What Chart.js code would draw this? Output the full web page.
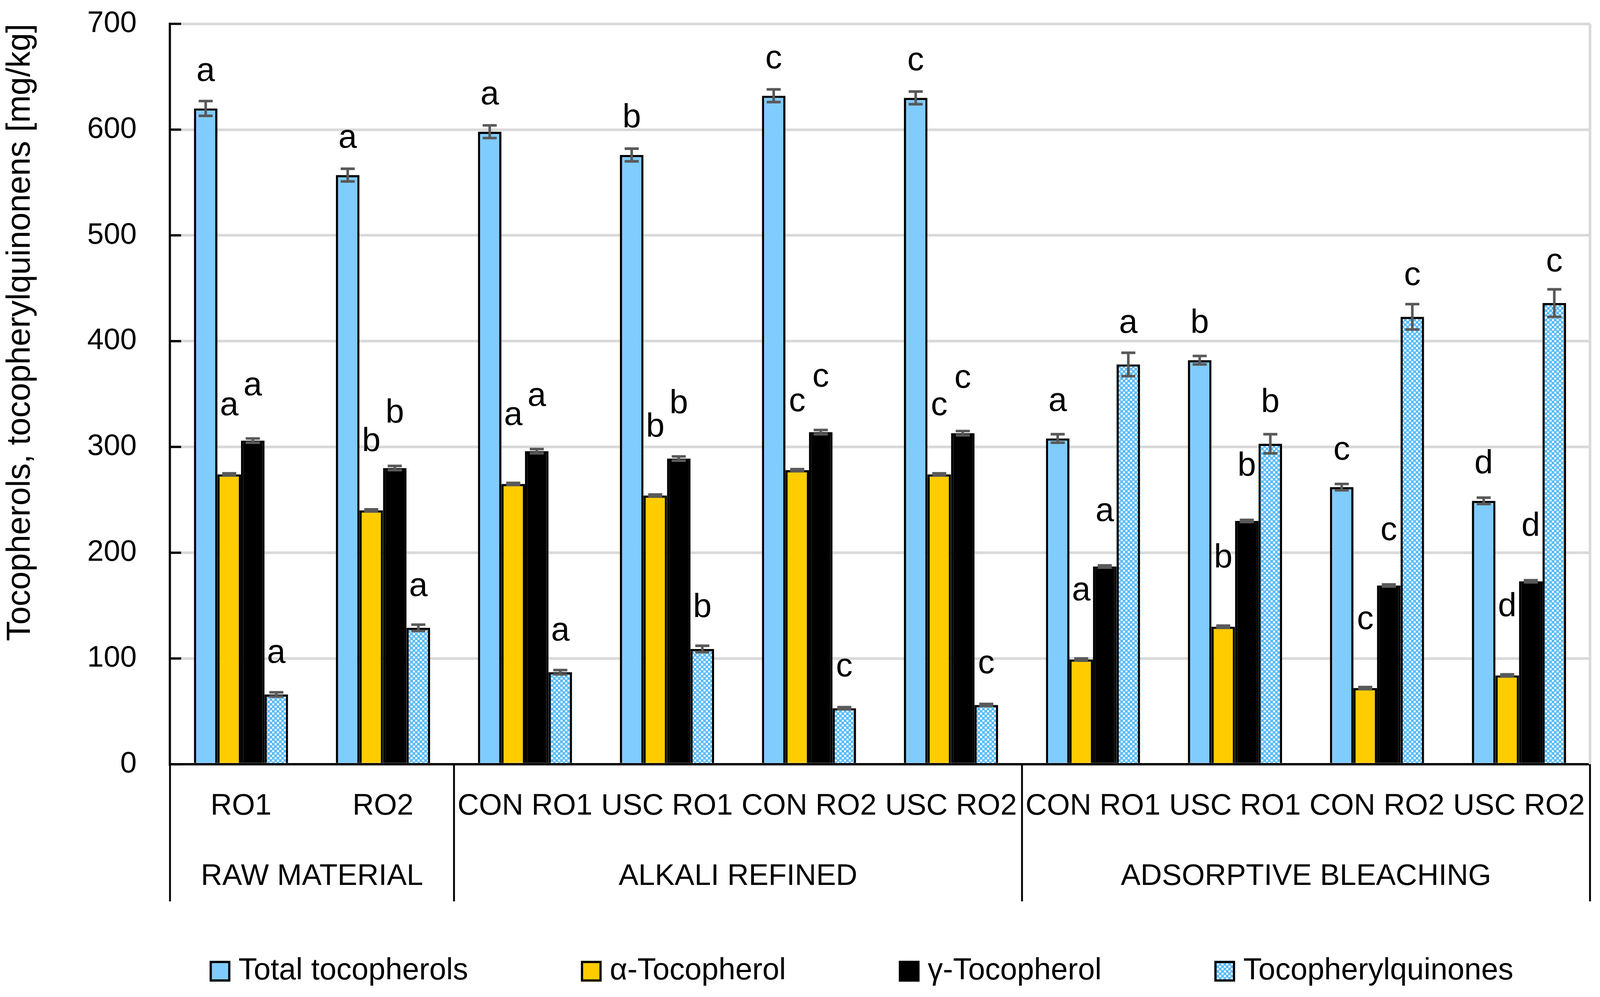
<!DOCTYPE html>
<html>
<head>
<meta charset="utf-8">
<script src="https://cdn.jsdelivr.net/npm/chart.js@4.4.1/dist/chart.umd.min.js"></script>
<style>
  html, body { margin: 0; padding: 0; background: #fff; overflow: hidden; }
  canvas { display: block; }
</style>
</head>
<body>
<canvas id="chart"></canvas>
<script>
// data
const categories = ['RO1', 'RO2', 'CON RO1', 'USC RO1', 'CON RO2', 'USC RO2', 'CON RO1', 'USC RO1', 'CON RO2', 'USC RO2'];
const groups = ['RAW MATERIAL', 'ALKALI REFINED', 'ADSORPTIVE BLEACHING'];
const groupSizes = [2, 4, 4];
const yTicks = [0, 100, 200, 300, 400, 500, 600, 700];

const totalTocopherols = [620, 557, 598, 576, 632, 630, 308, 382, 262, 249];
const alphaTocopherol = [274, 240, 265, 254, 278, 274, 99, 130, 72, 84];
const gammaTocopherol = [306, 280, 296, 289, 314, 313, 187, 230, 169, 173];
const tocopherylquinones = [66, 129, 87, 109, 53, 56, 378, 303, 423, 436];

const totalErr = [7, 6, 6, 6, 6, 6, 4, 4, 3, 3];
const alphaErr = [1, 1, 1, 1, 1, 1, 1, 1, 1, 1];
const gammaErr = [2, 2, 2, 2, 2, 2, 1, 1, 1, 1];
const tqErr = [2, 3, 2, 3, 1, 1, 11, 9, 12, 13];

const totalLetters = ['a', 'a', 'a', 'b', 'c', 'c', 'a', 'b', 'c', 'd'];
const alphaLetters = ['a', 'b', 'a', 'b', 'c', 'c', 'a', 'b', 'c', 'd'];
const gammaLetters = ['a', 'b', 'a', 'b', 'c', 'c', 'a', 'b', 'c', 'd'];
const tqLetters = ['a', 'a', 'a', 'b', 'c', 'c', 'a', 'b', 'c', 'c'];

const FONT = "'Liberation Sans', Arial, sans-serif";

// fit the page, sizes below are given for a 4320 x 2553 window
const W = window.innerWidth;
const H = window.innerHeight;
const sx = W / 4320;
const sy = H / 2553;
const sf = Math.min(sx, sy);

const canvas = document.getElementById('chart');
canvas.width = W;
canvas.height = H;
const ctxMain = canvas.getContext('2d');

// checkerboard fill for the quinones
const tile = document.createElement('canvas');
tile.width = 12;
tile.height = 12;
const tctx = tile.getContext('2d');
tctx.fillStyle = '#5bbdfb';
tctx.fillRect(0, 0, 12, 12);
tctx.fillStyle = '#ffffff';
tctx.fillRect(1, 1, 5, 5);
tctx.fillRect(7, 7, 5, 5);
const tqPattern = ctxMain.createPattern(tile, 'repeat');

const errorBars = {
    id: 'errorBars',
    afterDatasetsDraw(chart) {
        const ctx = chart.ctx;
        const y = chart.scales.y;
        const cap = 19 * sx;
        chart.data.datasets.forEach((ds, i) => {
            const meta = chart.getDatasetMeta(i);
            meta.data.forEach((bar, j) => {
                const v = ds.data[j];
                const e = ds.errors[j];
                const yt = y.getPixelForValue(v + e);
                const yb = y.getPixelForValue(v - e);
                ctx.save();
                ctx.strokeStyle = '#595959';
                ctx.lineWidth = 7 * sf;
                ctx.beginPath();
                ctx.moveTo(bar.x, yt);
                ctx.lineTo(bar.x, yb);
                ctx.moveTo(bar.x - cap, yt);
                ctx.lineTo(bar.x + cap, yt);
                ctx.moveTo(bar.x - cap, yb);
                ctx.lineTo(bar.x + cap, yb);
                ctx.stroke();
                ctx.fillStyle = '#000';
                ctx.font = (90 * sf) + 'px ' + FONT;
                ctx.textAlign = 'center';
                ctx.textBaseline = 'middle';
                ctx.fillText(ds.letters[j], bar.x, y.getPixelForValue(v) - ds.letterLift * sy);
                ctx.restore();
            });
        });
    }
};

const frame = {
    id: 'frame',
    afterDraw(chart) {
        const ctx = chart.ctx;
        const x = chart.scales.x;
        const y = chart.scales.y;
        const area = chart.chartArea;
        const tableBottom = 2308 * sy;
        ctx.save();
        // light right border of the plot
        ctx.strokeStyle = '#d9d9d9';
        ctx.lineWidth = 7 * sf;
        ctx.beginPath();
        ctx.moveTo(area.right, area.top);
        ctx.lineTo(area.right, area.bottom);
        ctx.stroke();
        // inward ticks on the value axis
        ctx.strokeStyle = '#000';
        ctx.lineWidth = 6 * sf;
        ctx.beginPath();
        yTicks.forEach(t => {
            const py = y.getPixelForValue(t);
            ctx.moveTo(area.left, py);
            ctx.lineTo(area.left + 30 * sx, py);
        });
        ctx.stroke();
        // group separators below the axis
        const bounds = [area.left];
        let idx = 0;
        groupSizes.forEach(n => {
            idx += n;
            if (idx < categories.length) {
                bounds.push((x.getPixelForValue(idx - 1) + x.getPixelForValue(idx)) / 2);
            } else {
                bounds.push(area.right);
            }
        });
        ctx.lineWidth = 5 * sf;
        ctx.beginPath();
        bounds.forEach(b => {
            ctx.moveTo(b, area.bottom);
            ctx.lineTo(b, tableBottom);
        });
        ctx.stroke();
        ctx.fillStyle = '#000';
        ctx.font = (80 * sf) + 'px ' + FONT;
        ctx.textAlign = 'center';
        ctx.textBaseline = 'middle';
        groups.forEach((g, k) => {
            ctx.fillText(g, (bounds[k] + bounds[k + 1]) / 2, 2245 * sy);
        });
        // legend, spread over the same span as the original
        const ds = chart.data.datasets;
        const box = 56 * sf, gap = 22 * sx;
        ctx.font = (82 * sf) + 'px ' + FONT;
        const widths = ds.map(d => ctx.measureText(d.label).width);
        const used = widths.reduce((a, w) => a + box + gap + w, 0);
        const spanLeft = 566 * sx, spanRight = 4086 * sx;
        const spacing = (spanRight - spanLeft - used) / (ds.length - 1);
        let lx = spanLeft;
        const ly = 2487 * sy;
        ds.forEach((d, k) => {
            ctx.fillStyle = d.backgroundColor;
            ctx.fillRect(lx, ly - box / 2, box, box);
            ctx.strokeStyle = '#000';
            ctx.lineWidth = 6 * sf;
            ctx.strokeRect(lx + 3 * sf, ly - box / 2 + 3 * sf, box - 6 * sf, box - 6 * sf);
            ctx.fillStyle = '#000';
            ctx.textAlign = 'left';
            ctx.fillText(d.label, lx + box + gap, ly);
            lx += box + gap + widths[k] + spacing;
        });
        ctx.restore();
    }
};

new Chart(ctxMain, {
    type: 'bar',
    data: {
        labels: categories,
        datasets: [
            { label: 'Total tocopherols', data: totalTocopherols, errors: totalErr, letters: totalLetters, letterLift: 94, backgroundColor: '#80ccff' },
            { label: 'α-Tocopherol', data: alphaTocopherol, errors: alphaErr, letters: alphaLetters, letterLift: 175, backgroundColor: '#ffcc00' },
            { label: 'γ-Tocopherol', data: gammaTocopherol, errors: gammaErr, letters: gammaLetters, letterLift: 140, backgroundColor: '#000000' },
            { label: 'Tocopherylquinones', data: tocopherylquinones, errors: tqErr, letters: tqLetters, letterLift: 105, backgroundColor: tqPattern }
        ]
    },
    options: {
        responsive: false,
        animation: false,
        datasets: {
            bar: {
                borderColor: '#000',
                borderWidth: 6 * sf,
                categoryPercentage: 0.663,
                barPercentage: 1.0
            }
        },
        layout: { padding: { left: 0, right: 27 * sx, top: 61 * sy, bottom: 0 } },
        plugins: {
            legend: { display: false },
            tooltip: { enabled: false }
        },
        scales: {
            x: {
                grid: { display: false, drawTicks: false },
                border: { display: true, color: '#000', width: 6 * sf },
                ticks: { color: '#000', font: { family: FONT, size: 80 * sf }, padding: 63 * sy, maxRotation: 0, autoSkip: false },
                afterFit(scale) {
                    scale.height = 596 * sy;
                    scale.paddingLeft = 0;
                    scale.paddingRight = 0;
                }
            },
            y: {
                min: 0,
                max: 700,
                grid: { color: '#d9d9d9', lineWidth: 7 * sf, drawTicks: false },
                border: { display: true, color: '#000', width: 6 * sf },
                ticks: { stepSize: 100, color: '#000', font: { family: FONT, size: 80 * sf }, padding: 90 * sx },
                title: {
                    display: true,
                    text: 'Tocopherols, tocopherylquinonens [mg/kg]',
                    align: 'end',
                    color: '#000',
                    font: { family: FONT, size: 89 * sf, lineHeight: 1.1 },
                    padding: { top: 7 * sx, bottom: 0 }
                },
                afterFit(scale) {
                    scale.width = 459 * sx;
                    scale.paddingTop = 0;
                    scale.paddingBottom = 0;
                }
            }
        }
    },
    plugins: [errorBars, frame]
});
</script>
</body>
</html>
